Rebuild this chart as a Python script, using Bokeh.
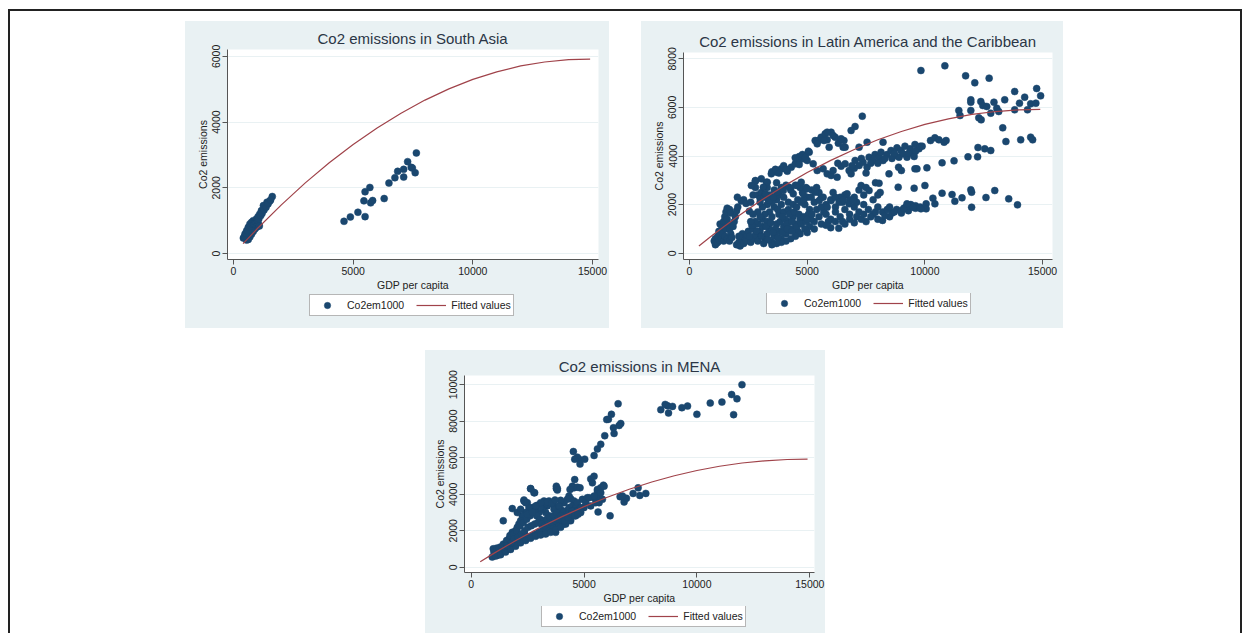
from bokeh.plotting import figure
from bokeh.models import Range1d, FixedTicker, Legend, LegendItem, Spacer, ColumnDataSource
from bokeh.layouts import row, column
from bokeh.embed import file_html
from bokeh.resources import INLINE

FONT = "Liberation Sans"
BG = "#e9f1f3"
NAVY = "#1a476f"
MAROON = "#a0434a"

# ---------------- data ----------------
x_ticks = [0, 5000, 10000, 15000]
sa_y_ticks = [0, 2000, 4000, 6000]
la_y_ticks = [0, 2000, 4000, 6000, 8000]
mena_y_ticks = [0, 2000, 4000, 6000, 8000, 10000]

legend_labels = ["Co2em1000", "Fitted values"]

fit_gdp = [400, 1000, 2000, 3000, 4000, 5000, 6000, 7000, 8000, 9000, 10000, 11000, 12000, 13000, 14000, 14900]
fit_co2 = [300, 760, 1480, 2150, 2760, 3320, 3820, 4270, 4670, 5010, 5300, 5530, 5710, 5830, 5900, 5920]

sa_gdp = [4618, 4884, 5199, 5498, 5449, 5498, 5698, 5731, 5814, 6296,
          6495, 6744, 6860, 7110, 7110, 7276, 7425, 7475, 7591, 7641,
          1621, 1511, 1401, 1305, 1250, 1168, 1099, 1030, 962, 1030,
          1058, 893, 824, 756, 687, 618, 550, 481, 412, 550,
          618, 687, 756, 824, 893, 962, 920, 824, 756, 687,
          618, 550, 481, 453, 522, 591, 659, 728, 797, 866,
          934, 1003, 1058, 1140, 1195, 1277, 1360, 1443, 1553, 1080]
sa_co2 = [980, 1112, 1255, 1122, 1602, 1878, 2010, 1541, 1612, 1673,
          2143, 2306, 2500, 2561, 2327, 2796, 2622, 2602, 2459, 3061,
          1734, 1591, 1561, 1408, 1459, 1306, 1204, 1122, 1051, 898,
          867, 949, 1000, 949, 898, 796, 694, 592, 469, 408,
          428, 510, 592, 673, 745, 796, 847, 796, 745, 673,
          612, 541, 469, 510, 612, 694, 796, 847, 898, 898,
          949, 1000, 1051, 1153, 1224, 1326, 1408, 1510, 1632, 837]

la_gdp = [1050, 1100, 1100, 1150, 1200, 1200, 1250, 1250, 1300, 1300,
          1350, 1350, 1400, 1400, 1450, 1450, 1500, 1500, 1550, 1550,
          1600, 1600, 1600, 1650, 1700, 1700, 1700, 1750, 1750, 1800,
          1850, 1900, 1950, 2000, 2050, 2000, 2100, 2150, 2200, 2300,
          2350, 2250, 2100, 2400, 2450, 2500, 2034, 2200, 2300, 2400,
          2542, 2600, 2700, 2800, 2797, 2900, 3000, 3050, 3271, 3300,
          2600, 2700, 2800, 2900, 3000, 3100, 3200, 3300, 3400, 3500,
          3600, 3700, 3800, 3900, 4000, 4100, 4200, 4300, 4400, 4500,
          4600, 4700, 2700, 2900, 3100, 3300, 3500, 3400, 3200, 3000,
          2800, 3600, 3800, 4000, 4200, 3900, 3700, 3500, 3300, 3100,
          3000, 3400, 3600, 3800, 4000, 4200, 4400, 4600, 4800, 5000,
          4300, 4100, 3900, 3700, 4500, 4700, 4900, 5100, 5300, 5500,
          5400, 5200, 5600, 5800, 6000, 6200, 6400, 6100, 5700, 5500,
          5300, 5100, 4900, 4700, 4500, 4300, 4100, 3900, 3700, 3500,
          2650, 2850, 3050, 3250, 3450, 3650, 3850, 4050, 4250, 4450,
          4650, 4850, 5050, 3150, 3350, 3550, 3750, 3950, 4150, 4350,
          4550, 4750, 4950, 4850, 2900, 2700, 2600, 2550, 3150, 3350,
          3550, 3750, 3950, 4150, 4350, 4550, 4750, 4950, 5150,
          6339, 5000, 6000, 7000, 7500, 8000, 8200, 8500, 9000, 9300,
          9600, 5000, 5200, 5400, 5600, 5800, 6000, 6200, 6400, 6600,
          6800, 7000, 7200, 7400, 7600, 7800, 8000, 8200, 8400, 8600,
          8800, 9000, 9200, 9400, 9600, 9800, 7000, 7200, 7289, 7500,
          7628, 7900, 8100, 7400, 6800, 6600, 6500, 7100, 7800, 8000,
          8051, 8865, 5600, 5900, 6200, 6500, 6800, 7100, 7300, 7700,
          8300, 8700, 9100, 5300, 5800, 6600, 7400, 7900, 8500,
          5678, 5848, 6017, 6272, 6441, 6611, 6780, 6865, 7034, 7204,
          7373, 7543, 7628, 7797, 7882, 8051, 8136, 8221, 8390, 8475,
          8560, 8729, 8814, 8899, 8983, 9068, 9153, 9238, 9373, 9492,
          9577, 9746, 8881, 9000, 9577, 6560, 6611, 7204, 7543, 8221,
          7034, 7340, 6100, 6300, 7000, 7300, 7700, 8000, 8300, 8600,
          8700, 9300, 9600, 9800, 7500, 6900,
          2797, 3051, 3475, 3695, 3899, 4153, 4322, 4492, 4661, 4746,
          4865, 5000, 5085, 4916, 4661, 5254, 5424, 5593, 5475, 5763,
          5848, 6017, 6187, 6322, 6441, 5932, 6526, 6865, 5848, 5712,
          6102, 5339, 5424, 4661, 4797, 4916, 5051, 4492, 3500, 3650,
          3800, 4000, 4100, 3305,
          2627, 3136, 3220, 3390, 3560, 3729, 3983, 4238, 4407, 4577,
          4746, 4831, 5000, 5170, 5339, 5509, 5678, 5848, 6017, 6187,
          6356, 6526, 6695, 6780, 6950,
          9831, 10848, 11729, 12119, 12729, 14747, 13814, 14916, 14238, 13390,
          11950, 11950, 12374, 12933, 14018, 14492, 14713, 12459, 12628, 13052,
          12797, 13136, 14357, 13814, 11441, 11492, 11950, 12289, 12390, 13306,
          13441, 14069, 14492, 14577, 12255, 12543, 12797, 11831, 12238, 11238,
          10729, 10238, 10424, 10594, 10814, 10899, 9882, 10085, 9662, 9543,
          10729, 11153, 11272, 11577, 11950, 11984, 11984, 12594, 12967, 13560,
          13933, 10340, 10424, 10052, 10052, 9831, 9492, 9238, 10000, 9543]
la_co2 = [500, 350, 600, 420, 700, 450, 550, 900, 800, 1200,
          600, 950, 800, 1100, 500, 1300, 700, 1500, 1000, 1700,
          600, 1400, 1850, 1200, 500, 1000, 1800, 800, 1650, 650,
          1100, 1300, 1500, 1750, 1900, 350, 450, 300, 550, 400,
          650, 800, 700, 500, 750, 900, 2305, 2150, 2200, 2050,
          1729, 2100, 2400, 2700, 2991, 2400, 2250, 2500, 2922, 2700,
          450, 600, 750, 500, 900, 1100, 600, 800, 1000, 450,
          700, 1200, 900, 600, 1100, 800, 1300, 1000, 1500, 1200,
          900, 1400, 1000, 1200, 1400, 1300, 1500, 1700, 1600, 1500,
          1300, 1900, 1600, 1700, 1800, 2000, 2200, 2100, 2000, 1900,
          2100, 2400, 2600, 2400, 2300, 2100, 2000, 2200, 2500, 2300,
          2600, 2800, 2700, 2900, 2800, 2700, 2000, 1800, 2100, 2500,
          2700, 2600, 2300, 2000, 2200, 1900, 2300, 2500, 1700, 1500,
          1300, 1100, 1000, 800, 700, 600, 500, 450, 400, 350,
          1150, 900, 700, 1100, 1250, 1000, 1300, 1400, 1600, 1700,
          1600, 1500, 1600, 2300, 2200, 2300, 1800, 1500, 1200, 1300,
          1900, 2100, 2700, 2200, 1700, 1600, 1300, 700, 400, 550,
          850, 650, 850, 1000, 900, 1100, 1200, 1300, 1400,
          1029, 850, 1050, 1250, 1300, 1400, 1350, 1500, 1650, 1750,
          1850, 1400, 1600, 1800, 1900, 1600, 1400, 1700, 1500, 1800,
          1600, 1900, 1700, 2000, 1800, 1600, 1900, 1700, 1800, 1650,
          1800, 1750, 1900, 2000, 1950, 1900, 2300, 2600, 2785, 2700,
          2579, 2900, 2500, 2400, 2200, 2400, 2100, 2100, 2200, 2400,
          2881, 2717, 1200, 1300, 1300, 1300, 1400, 1500, 1400, 1500,
          1550, 1700, 1850, 1000, 1150, 1200, 1600, 1700, 1900,
          3471, 3265, 3197, 3128, 3581, 3677, 3403, 3265, 3814, 3608,
          3746, 3540, 3951, 3814, 4061, 3951, 4157, 3814, 4061, 3265,
          4226, 4020, 4335, 3951, 4226, 4089, 4404, 3951, 4294, 4157,
          4473, 4294, 3540, 3403, 3471, 4637, 4363, 4363, 4569, 4569,
          5214, 5639, 3400, 3700, 3500, 3900, 3700, 3700, 3900, 3900,
          4100, 4100, 4200, 4400, 3300, 3600,
          2963, 3060, 3265, 3334, 3471, 3375, 3540, 3677, 3814, 3951,
          3883, 3814, 4157, 4020, 3650, 3677, 3403, 4774, 4637, 4912,
          4665, 4980, 4774, 4528, 4706, 4363, 4363, 5049, 4980, 4637,
          4843, 4637, 4500, 3979, 4061, 3951, 4198, 3924, 3350, 3450,
          3300, 3600, 3450, 2922,
          2785, 2717, 2442, 2168, 2305, 2511, 2579, 2717, 2442, 2785,
          2922, 2442, 2648, 2305, 2511, 2168, 2305, 1893, 2168, 2305,
          2099, 2195, 2442, 2031, 2168,
          7518, 7711, 7299, 7011, 7203, 6778, 6654, 6476, 6421, 6311,
          6311, 6215, 6243, 6215, 6174, 6147, 6174, 6078, 6037, 5968,
          5762, 5831, 5900, 5900, 5872, 5666, 5872, 5570, 5488, 5159,
          4596, 4665, 4775, 4665, 4349, 4294, 4226, 3965, 3965, 3800,
          3718, 4637, 4747, 4665, 4569, 4637, 4404, 3512, 3471, 3979,
          2470, 2415, 2140, 2278, 2607, 2511, 1893, 2291, 2579, 2236,
          1989, 2264, 2031, 2031, 1825, 1825, 1893, 2031, 2785, 2675]

mena_gdp = [11995, 11537, 11773, 11625, 11107, 10590, 9998, 9584, 9333, 8918, 8696, 8741, 8400, 8593,
            6508, 6212, 6079, 6005, 6626, 6552, 6301, 6330, 5916, 5739,
            5591, 5443, 4777, 4703, 4526, 4585, 4821, 5029, 5295, 5443,
            5369, 5857, 5739, 5591, 5665, 5636, 5621, 6153, 6596, 6774,
            6877, 6700, 7173, 7395, 7469, 7735,
            4585, 4481, 4555, 4703, 4821, 4378, 4333, 4407, 4555, 4260,
            4112, 3964, 3816, 3772, 3638, 3520, 3372, 3224, 3446, 3668,
            3964, 4186, 4333, 4481, 4629, 4703, 4925, 5147, 5443, 5295,
            4999, 4555, 4407, 4260, 4112, 3964, 3816, 3742, 3594, 3446,
            3298, 3150, 3002, 2854, 2707, 2633, 2781, 2337, 2485, 2559,
            2411, 2263, 2189, 2115, 2041, 1967, 1819, 1745, 1671, 1597,
            1523, 1449, 1375, 1302, 1228, 1154, 1080, 1006, 976, 1124,
            1272, 1420, 1568, 1716, 1864, 2011, 2159, 2307, 2456, 2603,
            2751, 2899, 3047, 3195, 3343, 3490, 3638, 3786, 3934, 4082,
            4230, 1671, 1819, 1967, 2115, 2263, 2411, 2559, 2707, 2854,
            3002, 3150, 3298, 3446, 3594, 1420, 1819, 2337, 2411, 2633,
            2811, 3772, 3816,
            2041, 2189, 2485, 2707, 2929, 3076, 3224, 3372, 3564, 3076,
            2854, 3712, 3890, 4038, 4333, 4481, 4703, 4851, 5073, 5221,
            5443, 5591, 5739, 5813, 5887, 5665, 5517,
            932, 1080, 1302, 1523, 1745, 1967, 2189, 2411, 2633, 2854,
            3076, 3298, 3520, 3742, 3964, 4186, 4407, 4629, 4851,
            1228, 1375, 1597, 1775, 1893, 2070, 2218, 2367, 2515, 2663,
            2811, 2959, 3106, 3254, 3402, 3549, 3697, 3845, 3993, 4141,
            4289, 4437, 4585, 4733]
mena_co2 = [10000, 9458, 9224, 8357, 9043, 8989, 8375, 8826, 8736, 8808, 8845, 8447, 8628, 8917,
            8953, 8375, 8105, 8087, 7870, 7762, 7635, 7328, 7202, 6733,
            6480, 6119, 5920, 6029, 6336, 5920, 5650, 5920, 4837, 4982,
            4621, 4494, 4350, 4170, 3989, 3809, 3032, 2816, 3863, 3574,
            3772, 3899, 4043, 4350, 3935, 4043,
            4801, 4440, 4350, 4386, 4350, 4260, 3899, 3754, 3628, 3718,
            3538, 3664, 4314, 4440, 3448, 3538, 3357, 3393, 3628, 3177,
            3177, 3087, 3267, 3357, 3267, 3538, 3718, 3809, 3809, 3357,
            3267, 2996, 2816, 2635, 2365, 2545, 2274, 1913, 2635, 2816,
            2996, 3177, 2996, 3177, 3267, 4296, 4079, 3628, 3538, 3267,
            2996, 2816, 2545, 2365, 2184, 2004, 1913, 1643, 1552, 1372,
            1191, 1047, 921, 830, 740, 650, 650, 830, 1011, 1047,
            1101, 1264, 1462, 1733, 1823, 2004, 2274, 2455, 2635, 2816,
            2996, 2816, 2635, 2545, 2635, 2726, 2816, 2996, 2816, 2996,
            2906, 1011, 1191, 1372, 1552, 1643, 1733, 1643, 1733, 1823,
            1913, 2004, 2094, 2184, 2274, 2545, 3213, 3682, 3538, 4314,
            4079, 4314, 4224,
            2996, 3177, 2906, 2996, 3393, 3267, 3628, 3574, 3502, 3538,
            3357, 3682, 3357, 2726, 2996, 3087, 3087, 3267, 3538, 3809,
            3899, 4260, 4079, 3718, 4440, 3538, 3538,
            560, 614, 686, 830, 975, 1155, 1336, 1462, 1588, 1697,
            1769, 1823, 1913, 2058, 2184, 2365, 2545, 2816, 2996,
            1011, 1101, 1191, 1336, 1552, 1643, 1823, 2004, 2184, 2274,
            2365, 2455, 2365, 2274, 2365, 2455, 2545, 2635, 2816, 2545,
            2726, 2906, 2816, 2906]

MARKER_SIZE = 7


def panel(title, gx, cy, xr, yr, yticks, w, h, bl, br, bt, bb, title_standoff):
    p = figure(width=w, height=h, x_range=Range1d(*xr), y_range=Range1d(*yr),
               output_backend="svg", toolbar_location=None,
               min_border_left=bl, min_border_right=br, min_border_top=bt, min_border_bottom=bb,
               background_fill_color="white", border_fill_color=BG, outline_line_color=None)
    p.title.text = title
    p.title.align = "center"
    p.title.text_font = FONT
    p.title.text_font_size = "15px"
    p.title.text_font_style = "normal"
    p.title.text_color = "#2b3646"
    p.title.standoff = title_standoff

    src = ColumnDataSource(dict(x=gx, y=cy))
    p.scatter("x", "y", source=src, size=MARKER_SIZE, fill_color=NAVY, line_color=NAVY, line_width=0.5)
    fsrc = ColumnDataSource(dict(x=fit_gdp, y=fit_co2))
    p.line("x", "y", source=fsrc, line_color=MAROON, line_width=1.2)

    p.xaxis.ticker = FixedTicker(ticks=x_ticks)
    p.yaxis.ticker = FixedTicker(ticks=yticks)
    p.xgrid.grid_line_color = None
    p.ygrid.grid_line_color = BG
    p.ygrid.grid_line_width = 1
    p.xaxis.axis_label = "GDP per capita"
    p.yaxis.axis_label = "Co2 emissions"
    p.yaxis.major_label_orientation = "vertical"
    for ax in (p.xaxis, p.yaxis):
        ax.axis_label_text_font = FONT
        ax.axis_label_text_font_size = "10.5px"
        ax.axis_label_text_font_style = "normal"
        ax.axis_label_text_color = "#222222"
        ax.axis_label_standoff = 1
        ax.major_label_text_font = FONT
        ax.major_label_text_font_size = "10.5px"
        ax.major_label_text_color = "#222222"
        ax.major_label_standoff = 2
        ax.major_tick_out = 5
        ax.major_tick_in = 0
        ax.minor_tick_line_color = None
        ax.axis_line_color = "#555555"
        ax.major_tick_line_color = "#555555"
    return p


def legend_strip(w, h, loc):
    # legend-only strip: the sample glyphs sit outside the visible range
    q = figure(width=w, height=h, x_range=Range1d(0, 1), y_range=Range1d(0, 1),
               x_axis_type=None, y_axis_type=None,
               output_backend="svg", toolbar_location=None,
               min_border_left=0, min_border_right=0, min_border_top=0, min_border_bottom=0,
               background_fill_color=BG, border_fill_color=BG, outline_line_color=None)
    sc = q.scatter(x=[-10], y=[-10], size=MARKER_SIZE, fill_color=NAVY, line_color=NAVY, line_width=0.5)
    ln = q.line(x=[-10, -9], y=[-10, -10], line_color=MAROON, line_width=1.2)
    legend = Legend(items=[LegendItem(label=legend_labels[0], renderers=[sc]),
                           LegendItem(label=legend_labels[1], renderers=[ln])],
                    orientation="horizontal", location=loc,
                    border_line_color="#6e6e6e", border_line_width=1,
                    background_fill_color="white", background_fill_alpha=1,
                    label_text_font=FONT, label_text_font_size="10.5px", label_text_color="#222222",
                    glyph_width=30, glyph_height=16, label_height=14, label_standoff=5,
                    padding=2, spacing=12, margin=0)
    q.add_layout(legend)
    return q


p1 = panel("Co2 emissions in South Asia", sa_gdp, sa_co2, (-250, 15250), (-183, 6210),
           sa_y_ticks, 424, 272, 42, 11, 28, 34, 5)
l1 = legend_strip(424, 35, (82, 12))
p2 = panel("Co2 emissions in Latin America and the Caribbean", la_gdp, la_co2, (-255, 15420), (-259, 8259),
           la_y_ticks, 422, 272, 42, 11, 31, 34, 5)
l2 = legend_strip(422, 35, (83, 14))
p3 = panel("Co2 emissions in MENA", mena_gdp, mena_co2, (-297, 15208), (-287, 10500),
           mena_y_ticks, 400, 256, 39, 11, 25, 32, 1)
l3 = legend_strip(400, 27, (77, 6))

bgstyle = {"background-color": BG}
framed = column(
    Spacer(width=1230, height=10),
    row(Spacer(width=175, height=307), column(p1, l1, styles=bgstyle),
        Spacer(width=32, height=307), column(p2, l2, styles=bgstyle)),
    Spacer(width=1230, height=22),
    row(Spacer(width=415, height=283), column(p3, l3, styles=bgstyle)),
    styles={"border-top": "2px solid #222", "border-left": "2px solid #222",
            "border-right": "2px solid #222"},
)

layout = column(Spacer(width=1242, height=9), row(Spacer(width=8, height=624), framed))

open("out.html", "w").write(file_html(layout, INLINE))
